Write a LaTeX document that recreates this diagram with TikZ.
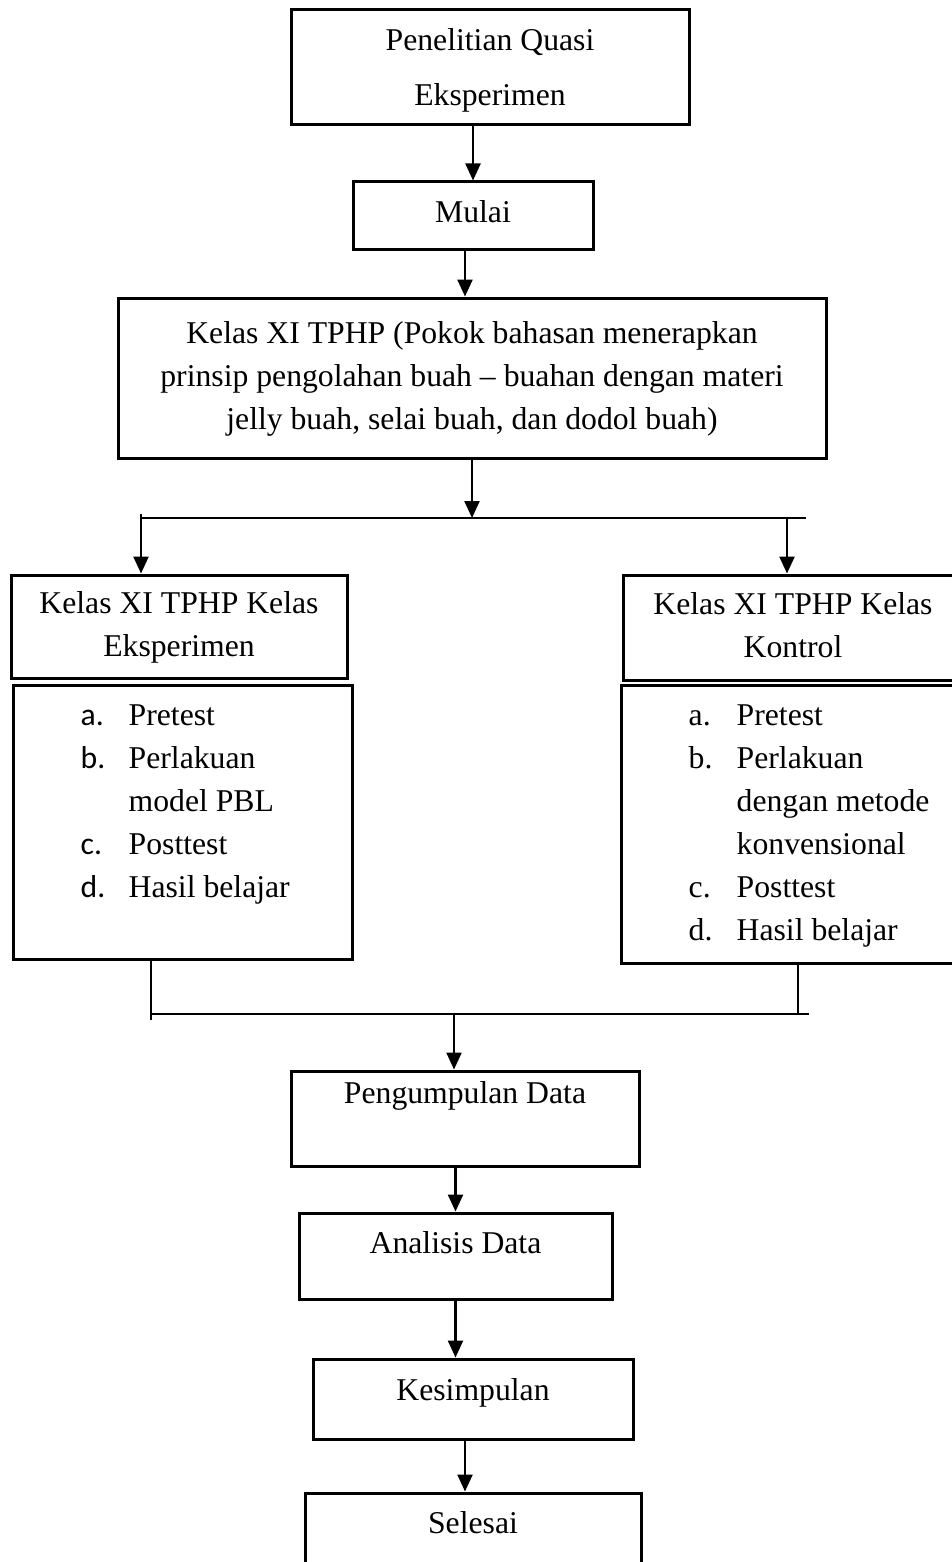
\documentclass[tikz,border=0pt]{standalone}
\usepackage{fontspec}
\setmainfont{Liberation Serif}
\newfontfamily\calibri{Carlito}
\usetikzlibrary{arrows.meta,positioning,calc}
\newcommand{\itemrow}[2]{\strut\makebox[48pt][l]{#1}#2}
\tikzset{
  box/.style={draw=black,line width=3pt,inner sep=0pt,align=center,font=\fontsize{31.7pt}{43pt}\selectfont},
  items/.style={inner sep=0pt,align=left,font=\fontsize{31.7pt}{43pt}\selectfont},
  arrow/.style={-{Triangle[length=17pt,width=15pt]},line width=2.4pt},
  thinLine/.style={line width=1.5pt}
}
\begin{document}
\begin{tikzpicture}[x=1pt,y=-1pt]
\useasboundingbox (0,0) rectangle (952,1562);
% alur atas
\node[box,minimum width=398pt,minimum height=115pt,font=\fontsize{31.7pt}{55pt}\selectfont] (quasi) at (490,67.5) {\strut Penelitian Quasi\\\strut Eksperimen};
\node[box,minimum width=240pt,minimum height=68pt,text height=30pt,text depth=16pt] (mulai) at (473,216) {Mulai};
\node[box,minimum width=708pt,minimum height=160pt] (kelas) at (472,378) {\strut Kelas XI TPHP (Pokok bahasan menerapkan\\\strut prinsip pengolahan buah -- buahan dengan materi\\\strut jelly buah, selai buah, dan dodol buah)};
% dua kelas
\node[box,minimum width=336pt,minimum height=103pt] (eksp) at (179,626.5) {\strut Kelas XI TPHP Kelas\\\strut Eksperimen};
\node[box,minimum width=340pt,minimum height=105pt] (kont) at (793,627.5) {\strut Kelas XI TPHP Kelas\\\strut Kontrol};
\node[box,minimum width=339pt,minimum height=274pt] (listE) at (182.5,822) {};
\node[box,minimum width=342pt,minimum height=278pt] (listK) at (792,824) {};
\node[items,below right=12pt and 69pt of listE.north west] (itemsE) {\itemrow{\calibri a.}{Pretest}\\\itemrow{\calibri b.}{Perlakuan}\\\itemrow{}{model PBL}\\\itemrow{\calibri c.}{Posttest}\\\itemrow{\calibri d.}{Hasil belajar}};
\node[items,below right=12pt and 69pt of listK.north west] (itemsK) {\itemrow{a.}{Pretest}\\\itemrow{b.}{Perlakuan}\\\itemrow{}{dengan metode}\\\itemrow{}{konvensional}\\\itemrow{c.}{Posttest}\\\itemrow{d.}{Hasil belajar}};
% alur bawah
\node[box,minimum width=348pt,minimum height=95pt,text height=22pt,text depth=53pt] (kumpul) at (465,1118.5) {Pengumpulan Data};
\node[box,minimum width=313pt,minimum height=86pt,text height=22pt,text depth=28pt] (analisis) at (455.5,1256) {Analisis Data};
\node[box,minimum width=320pt,minimum height=80pt,text height=22pt,text depth=20pt] (simpul) at (473,1399) {Kesimpulan};
\node[box,minimum width=336pt,minimum height=97pt,text height=22pt,text depth=39pt] (selesai) at (473,1541.5) {Selesai};
% titik cabang
\coordinate (barL) at (141,518);
\coordinate (barR) at (806,518);
\coordinate (forkR) at (787,518);
\coordinate (joinL) at (151,1014);
\coordinate (joinR) at (809,1014);
\coordinate (joinM) at (454,1014);
\coordinate (tickL) at (151,1020);
\coordinate (tickR) at (798,1014);
\coordinate (m1) at ([xshift=-8pt]mulai.south);
\coordinate (s1) at ([xshift=-8pt]simpul.south);
% panah
\draw[arrow] (quasi.south -| mulai.north) -- (mulai.north);
\draw[arrow] (m1) -- (m1 |- kelas.north);
\draw[arrow] (kelas.south) -- (kelas.south |- barL);
\draw[thinLine] (barL) -- (barR);
\draw[arrow] ([yshift=4pt]barL) -- (barL |- eksp.north);
\draw[arrow] ([yshift=1pt]forkR) -- (forkR |- kont.north);
\draw[thinLine] (listE.south -| tickL) -- (tickL);
\draw[thinLine] (listK.south -| tickR) -- (tickR);
\draw[thinLine] (joinL) -- (joinR);
\draw[arrow] (joinM) -- (joinM |- kumpul.north);
\draw[arrow] (kumpul.south -| analisis.north) -- (analisis.north);
\draw[arrow] (analisis.south) -- (analisis.south |- simpul.north);
\draw[arrow] (s1) -- (s1 |- selesai.north);
\end{tikzpicture}
\end{document}
